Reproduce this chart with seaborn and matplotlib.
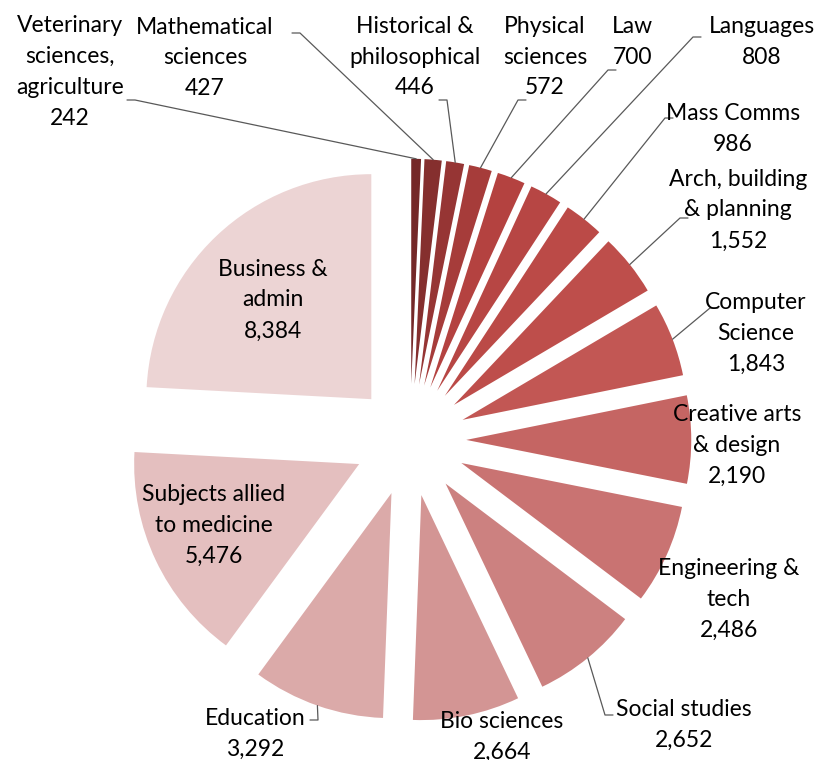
import numpy as np
import matplotlib
matplotlib.use("Agg")
from matplotlib import pyplot as plt
import seaborn as sns

## Data (clockwise from 12 o'clock)
subjects = ["Veterinary\nsciences,\nagriculture", "Mathematical\nsciences",
            "Historical &\nphilosophical", "Physical\nsciences", "Law", "Languages",
            "Mass Comms", "Arch, building\n& planning", "Computer\nScience",
            "Creative arts\n& design", "Engineering &\ntech", "Social studies",
            "Bio sciences", "Education", "Subjects allied\nto medicine", "Business &\nadmin"]
students = [242, 427, 446, 572, 700, 808, 986, 1552, 1843,
            2190, 2486, 2652, 2664, 3292, 5476, 8384]

## Layout (pixels of the 822x760 picture)
CX, CY, R = 410, 440, 225
label_pos = [(70, 72), (205, 58), (415, 57), (545, 57), (632, 42), (762, 42),
             (733, 129), (738, 210), (756, 333), (737, 445), (729, 599),
             (684, 725), (502, 737), (255, 734), (214, 525), (273, 300)]
# elbow of each leader line (None = no leader), and tick direction
leader = [((135, 100), -1), ((300, 33), -1), ((447, 100), -1), ((518, 100), 1),
          ((608, 70), 1), ((693, 37), 1), ((665, 118), 1), ((680, 218), 1),
          ((710, 308), 1), None, None, ((605, 715), 1), None, ((318, 720), -1),
          None, None]
EXPLODE = 0.25


def px(x, y):
    return (x - CX) / R, (CY - y) / R


sns.set_theme(style="white")
plt.rcParams['font.family'] = ['Lato', 'DejaVu Sans']

colors = sns.blend_palette(["#742828", "#b3413f", "#c0504d", "#cd8584", "#ecd4d4"],
                           n_colors=len(students))

fig = plt.figure(figsize=(8.22, 7.6), dpi=100)
ax = fig.add_axes([0, 0, 1, 1])

wedges, _ = ax.pie(students, startangle=90, counterclock=False, colors=colors,
                   explode=[EXPLODE] * len(students), radius=1,
                   wedgeprops=dict(linewidth=0))

for i, (w, name, val) in enumerate(zip(wedges, subjects, students)):
    tx, ty = px(*label_pos[i])
    ax.text(tx, ty, f"{name}\n{val:,}", ha="center", va="center",
            fontsize=16.5, color="black", linespacing=1.58)
    if leader[i] is None:
        continue
    (ex, ey), d = leader[i]
    ang = np.deg2rad((w.theta1 + w.theta2) / 2)
    sx, sy = (1 + EXPLODE) * np.cos(ang), (1 + EXPLODE) * np.sin(ang)
    x1, y1 = px(ex, ey)
    x0, y0 = px(ex + 8 * d, ey)
    ax.plot([x0, x1, sx], [y0, y1, sy], color="#595959", lw=0.9)

ax.set_xlim(-CX / R, (822 - CX) / R)
ax.set_ylim(-(760 - CY) / R, CY / R)
ax.axis("off")

plt.savefig("out.png", dpi=100)
